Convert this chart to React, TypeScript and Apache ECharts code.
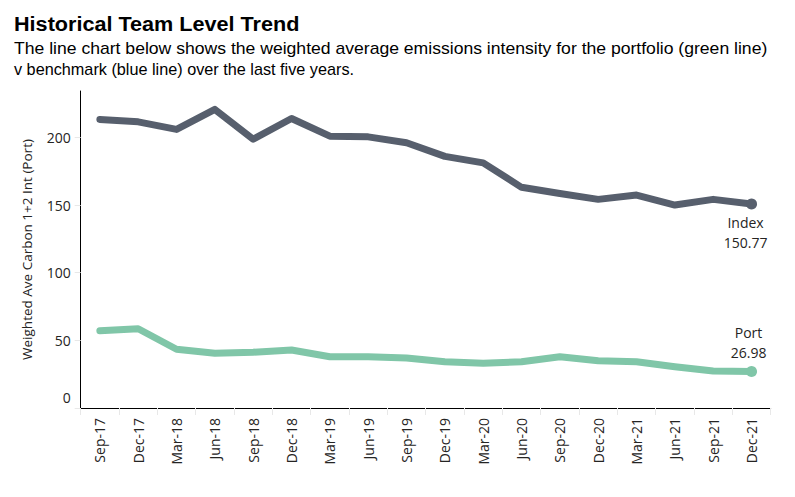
import React, { useEffect, useRef } from "react";
import * as echarts from "echarts";

const categories = [
  "Sep-17", "Dec-17", "Mar-18", "Jun-18", "Sep-18", "Dec-18",
  "Mar-19", "Jun-19", "Sep-19", "Dec-19", "Mar-20", "Jun-20",
  "Sep-20", "Dec-20", "Mar-21", "Jun-21", "Sep-21", "Dec-21",
];
const indexValues = [
  213.3, 211.5, 205.9, 220.7, 198.7, 214.0, 200.9, 200.4, 196.0,
  186.0, 181.2, 163.1, 158.6, 154.2, 157.4, 150.0, 154.2, 150.77,
];
const portValues = [
  57.1, 58.6, 43.4, 40.4, 41.2, 42.9, 37.9, 37.9, 36.9,
  34.2, 33.0, 34.2, 37.9, 35.0, 34.2, 30.5, 27.3, 26.98,
];
const yTicks = [0, 50, 100, 150, 200];

const titleText = "Historical Team Level Trend";
const subtitleLine1 =
  "The line chart below shows the weighted average emissions intensity for the portfolio (green line)";
const subtitleLine2 = "v benchmark (blue line) over the last five years.";
const yAxisName = "Weighted Ave Carbon 1+2 Int (Port)";

const INDEX_COLOR = "#575f6d";
const PORT_COLOR = "#80c6a8";
const TEXT_COLOR = "#252423";
const LABEL_FONT = "'Open Sans', 'Noto Sans', sans-serif";
const HEAD_FONT = "'Liberation Sans', Arial, sans-serif";

export default function App() {
  const ref = useRef<HTMLDivElement>(null);

  useEffect(() => {
    document.body.style.margin = "0";
    if (!ref.current) return;
    const chart = echarts.init(ref.current, undefined, { renderer: "svg" });
    const last = categories.length - 1;

    const endLabel = (name: string, value: number, position: string, offset: number[]) => ({
      show: true,
      position,
      distance: 3,
      offset,
      formatter: `${name}\n${value.toFixed(2)}`,
      color: TEXT_COLOR,
      fontFamily: LABEL_FONT,
      fontSize: 14,
      lineHeight: 20,
      align: "center",
    });

    const mk = (vals: number[], name: string, position: string, offset: number[]) =>
      vals.map((v, i) =>
        i === last
          ? { value: v, symbol: "circle", symbolSize: 11, label: endLabel(name, v, position, offset) }
          : { value: v, symbol: "none" }
      );

    chart.setOption({
      animation: false,
      graphic: [
        {
          type: "text",
          x: 14,
          y: 14,
          scaleX: 1.03,
          style: {
            text: titleText,
            x: 0,
            y: 0,
            font: `bold 21px ${HEAD_FONT}`,
            fill: "#000",
            verticalAlign: "top",
          },
        },
        {
          type: "text",
          x: 14,
          y: 41,
          scaleX: 1.1,
          style: {
            text: subtitleLine1,
            x: 0,
            y: 0,
            font: `16px ${HEAD_FONT}`,
            fill: "#000",
            verticalAlign: "top",
          },
        },
        {
          type: "text",
          x: 14,
          y: 61,
          scaleX: 1.015,
          style: {
            text: subtitleLine2,
            x: 0,
            y: 0,
            font: `16px ${HEAD_FONT}`,
            fill: "#000",
            verticalAlign: "top",
          },
        },
      ],
      grid: { left: 80.7, right: 24.3, top: 91, bottom: 89, containLabel: false },
      xAxis: {
        type: "category",
        data: categories,
        boundaryGap: true,
        axisLine: { show: true, lineStyle: { color: "#000", width: 1 } },
        axisTick: { show: true, alignWithLabel: false, length: 7, lineStyle: { color: "#e8e8e8" } },
        axisLabel: {
          rotate: 90,
          interval: 0,
          margin: 10,
          color: TEXT_COLOR,
          fontFamily: LABEL_FONT,
          fontSize: 14,
        },
        splitLine: { show: false },
      },
      yAxis: {
        type: "value",
        min: 0,
        max: 234.3,
        interval: 50,
        name: yAxisName,
        nameLocation: "middle",
        nameGap: 47,
        nameTextStyle: { color: TEXT_COLOR, fontFamily: LABEL_FONT, fontSize: 13.5 },
        axisLine: { show: true, lineStyle: { color: "#000", width: 1 } },
        axisTick: { show: true, length: 6, lineStyle: { color: "#e8e8e8" } },
        axisLabel: {
          showMaxLabel: false,
          margin: 10,
          color: TEXT_COLOR,
          fontFamily: LABEL_FONT,
          fontSize: 14,
          formatter: (v: number) => (yTicks.includes(v) ? (v === 0 ? "{z|0}" : String(v)) : ""),
          rich: {
            z: { padding: [0, 0, 22, 0], color: TEXT_COLOR, fontFamily: LABEL_FONT, fontSize: 14 },
          },
        },
        splitLine: { show: false },
      },
      series: [
        {
          name: "Index",
          type: "line",
          data: mk(indexValues, "Index", "bottom", [-6, 0]),
          symbol: "none",
          itemStyle: { color: INDEX_COLOR },
          lineStyle: { color: INDEX_COLOR, width: 7, cap: "round", join: "round" },
          z: 3,
        },
        {
          name: "Port",
          type: "line",
          data: mk(portValues, "Port", "top", [-3, 0]),
          symbol: "none",
          itemStyle: { color: PORT_COLOR },
          lineStyle: { color: PORT_COLOR, width: 7, cap: "round", join: "round" },
          z: 2,
        },
      ],
    });

    return () => chart.dispose();
  }, []);

  return <div ref={ref} style={{ width: 795, height: 497 }} />;
}
